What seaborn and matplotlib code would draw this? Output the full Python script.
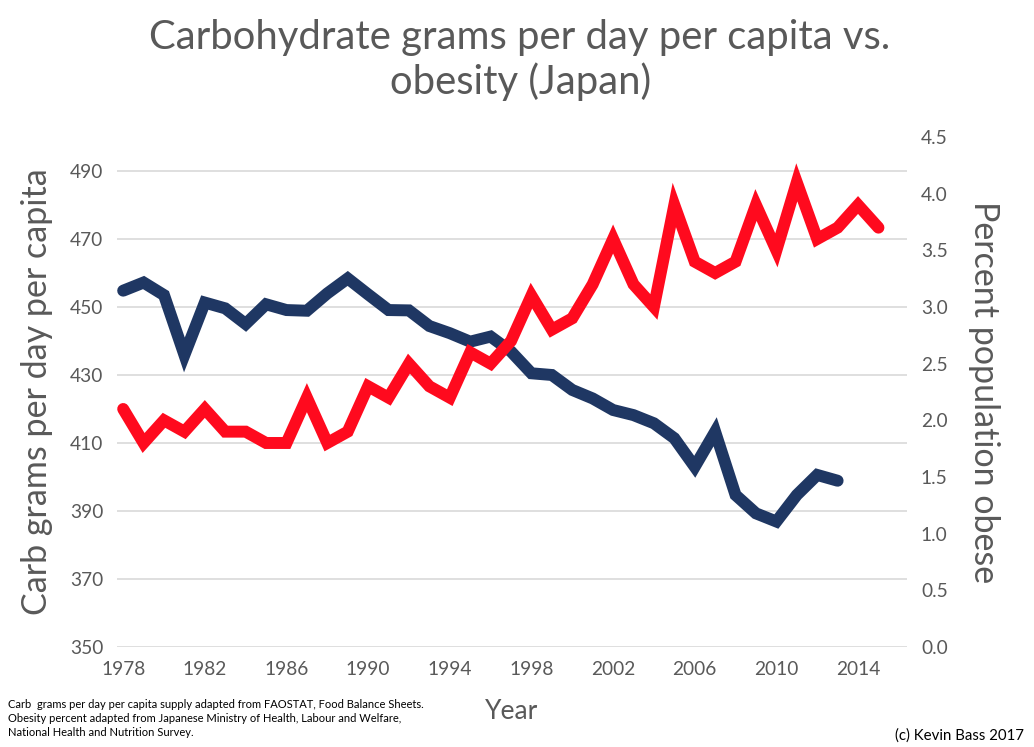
import numpy as np
import pandas as pd
import matplotlib
matplotlib.use("Agg")
import matplotlib.pyplot as plt
import seaborn as sns

# --- DATA ---
carb_years = list(range(1978, 2014))
carb_grams = [454.8, 457.2, 453.5, 435.9, 451.3, 449.6, 445.0, 450.8, 449.1, 448.9,
              454.0, 458.4, 453.7, 449.1, 449.0, 444.4, 442.3, 439.8, 441.3, 436.9,
              430.5, 430.0, 425.6, 423.1, 419.7, 418.2, 415.8, 411.4, 403.0, 413.3,
              394.7, 389.3, 386.9, 394.7, 400.6, 398.9]

obese_years = list(range(1978, 2016))
obese_pct = [2.1, 1.8, 2.0, 1.9, 2.1, 1.9, 1.9, 1.8, 1.8, 2.2,
             1.8, 1.9, 2.3, 2.2, 2.5, 2.3, 2.2, 2.6, 2.5, 2.7,
             3.1, 2.8, 2.9, 3.2, 3.6, 3.2, 3.0, 3.9, 3.4, 3.3,
             3.4, 3.9, 3.5, 4.1, 3.6, 3.7, 3.9, 3.7]

x_ticks = list(range(1978, 2015, 4))
left_ticks = list(range(350, 491, 20))
right_ticks = [0.0, 0.5, 1.0, 1.5, 2.0, 2.5, 3.0, 3.5, 4.0, 4.5]

carb_df = pd.DataFrame({"year": carb_years, "carbs": carb_grams})
obese_df = pd.DataFrame({"year": obese_years, "obese": obese_pct})

# --- STYLE ---
sns.set_style("white")
plt.rcParams['font.family'] = ['Lato', 'DejaVu Sans']
grey = '#595959'
navy = '#1f3763'
red = '#ff0a1e'

fig = plt.figure(figsize=(10.34, 7.47), dpi=100)
ax = fig.add_axes([0.1132, 0.1339, 0.764, 0.6827])
ax2 = ax.twinx()

sns.lineplot(data=carb_df, x="year", y="carbs", ax=ax, color=navy, linewidth=8.6,
             solid_capstyle='round', solid_joinstyle='miter')
sns.lineplot(data=obese_df, x="year", y="obese", ax=ax2, color=red, linewidth=8.6,
             solid_capstyle='round', solid_joinstyle='miter')

ax.set_xlim(1977.7, 2016.4)
ax.set_ylim(350, 500)
ax.set_yticks(left_ticks)
ax.set_xticks(x_ticks)
ax2.set_ylim(0, 4.5)
ax2.set_yticks(right_ticks)
ax2.set_yticklabels([f"{v:.1f}" for v in right_ticks])

ax.yaxis.grid(True, color='#d9d9d9', linewidth=1.2)
ax.set_axisbelow(True)
for a in (ax, ax2):
    for s in a.spines.values():
        s.set_visible(False)
    a.tick_params(length=0, labelsize=13.8, colors=grey)
ax.tick_params(axis='y', pad=10)
ax.tick_params(axis='x', pad=10)
ax2.tick_params(axis='y', pad=10)

ax.set_xlabel("")
ax.set_ylabel("Carb grams per day per capita", fontsize=24.5, color=grey, labelpad=12)
ax2.set_ylabel("Percent population obese", fontsize=24.5, color=grey, rotation=-90,
               labelpad=38)

fig.text(0.503, 0.92, "Carbohydrate grams per day per capita vs.\nobesity (Japan)",
         ha='center', va='center', fontsize=28.8, color=grey, linespacing=1.2)
fig.text(0.495, 0.047, "Year", ha='center', va='center', fontsize=19, color=grey)
fig.text(0.008, 0.038,
         "Carb  grams per day per capita supply adapted from FAOSTAT, Food Balance Sheets.\n"
         "Obesity percent adapted from Japanese Ministry of Health, Labour and Welfare,\n"
         "National Health and Nutrition Survey.",
         ha='left', va='center', fontsize=8.0, color='black', linespacing=1.35)
fig.text(0.99, 0.016, "(c) Kevin Bass 2017", ha='right', va='center', fontsize=10.8,
         color='black')

fig.savefig("out.png", dpi=100, facecolor='white')
